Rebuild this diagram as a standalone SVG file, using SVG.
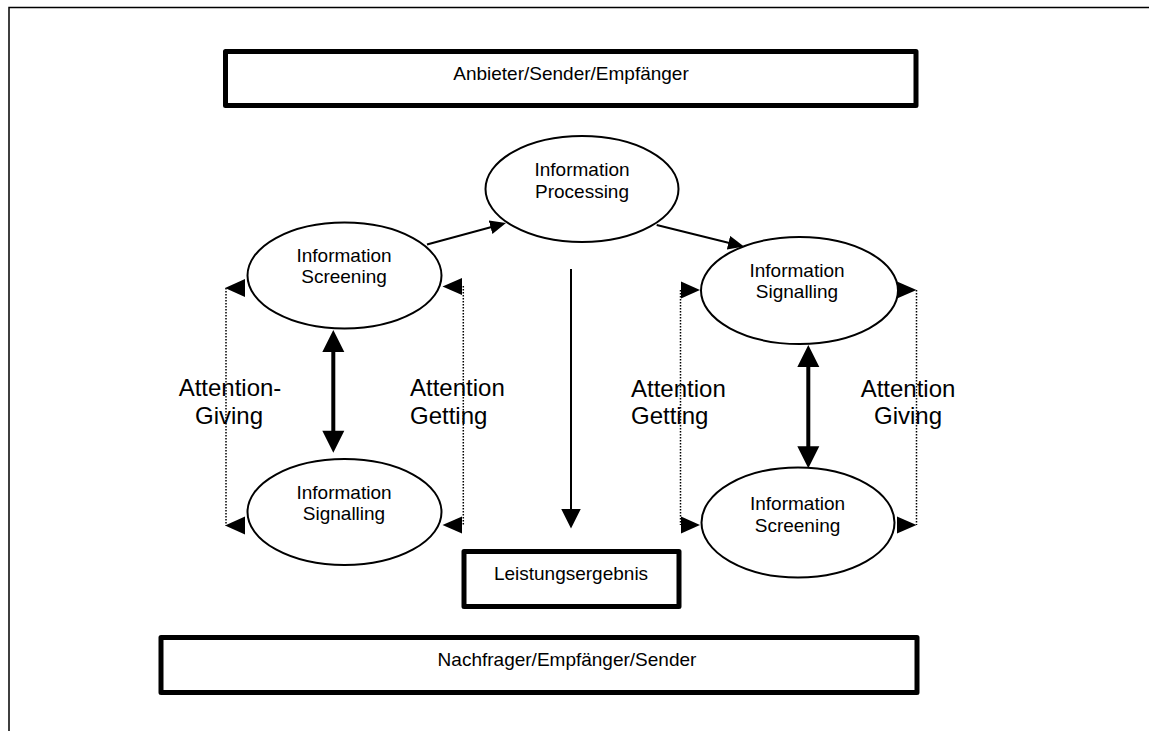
<svg xmlns="http://www.w3.org/2000/svg" width="1149" height="731" viewBox="0 0 1149 731">
  <style>
    .box { fill: #fff; stroke: #000; stroke-width: 5; stroke-linejoin: round; }
    .node { fill: #fff; stroke: #000; stroke-width: 2; }
    .lbl { font-family: "Liberation Sans", Arial, sans-serif; font-size: 19px; fill: #000; }
    .big { font-family: "Liberation Sans", Arial, sans-serif; font-size: 24px; fill: #000; }
    .line { stroke: #000; stroke-width: 2; fill: none; }
    .thick { stroke: #000; stroke-width: 4; fill: none; }
    .dot { stroke: #000; stroke-width: 1.5; stroke-dasharray: 1.5 1.5; fill: none; }
    .head { fill: #000; stroke: none; }
  </style>
  <defs>
    <marker id="arrS" markerWidth="16" markerHeight="14" refX="2" refY="7" orient="auto" markerUnits="userSpaceOnUse">
      <path d="M0,0 L16,7 L0,14 z" fill="#000"/>
    </marker>
    <marker id="arrL" markerWidth="20" markerHeight="20" refX="2" refY="10" orient="auto" markerUnits="userSpaceOnUse">
      <path d="M0,0 L20,10 L0,20 z" fill="#000"/>
    </marker>
  </defs>

  <rect width="1149" height="731" fill="#fff"/>

  <!-- page frame -->
  <path d="M9,731 V7.5 H1149" fill="none" stroke="#000" stroke-width="1.5"/>

  <!-- connectors -->
  <g id="connectors">
    <line class="line" x1="427" y1="244.5" x2="492.5" y2="226.7" marker-end="url(#arrS)"/>
    <line class="line" x1="656.7" y1="225" x2="730.4" y2="243.2" marker-end="url(#arrS)"/>
    <line class="line" x1="571" y1="269" x2="571" y2="510.5" marker-end="url(#arrL)"/>

    <!-- left pair: two-way link -->
    <line class="thick" x1="333.3" y1="348" x2="333.3" y2="435"/>
    <path class="head" d="M333.3,330 L344.3,352 L322.3,352 z"/>
    <path class="head" d="M333.3,452.7 L322.3,430.7 L344.3,430.7 z"/>

    <!-- right pair: two-way link -->
    <line class="thick" x1="808.3" y1="363" x2="808.3" y2="450"/>
    <path class="head" d="M808.3,345 L819.3,367 L797.3,367 z"/>
    <path class="head" d="M808.3,468.3 L797.3,446.3 L819.3,446.3 z"/>

    <!-- attention giving (left) -->
    <line class="dot" x1="226" y1="288" x2="226" y2="525.5"/>
    <path class="head" d="M225,288 L245,279 L245,297 z"/>
    <path class="head" d="M225,525.5 L245,516.5 L245,534.5 z"/>

    <!-- attention getting (left) -->
    <line class="dot" x1="463.3" y1="286" x2="463.3" y2="525"/>
    <path class="head" d="M442.5,286.5 L462,278 L462,295 z"/>
    <path class="head" d="M442.5,525 L462,516.5 L462,533.5 z"/>

    <!-- attention getting (right) -->
    <line class="dot" x1="680.5" y1="290" x2="680.5" y2="525"/>
    <path class="head" d="M700,290 L681,281.5 L681,298.5 z"/>
    <path class="head" d="M700,525 L681,516.5 L681,533.5 z"/>

    <!-- attention giving (right) -->
    <line class="dot" x1="916.5" y1="290" x2="916.5" y2="525"/>
    <path class="head" d="M916.5,290 L897,281.5 L897,298.5 z"/>
    <path class="head" d="M916.5,525 L897,516.5 L897,533.5 z"/>
  </g>

  <g id="anbieter">
    <rect class="box" x="225.5" y="51.5" width="690.5" height="54"/>
    <text class="lbl" x="571" y="80" text-anchor="middle">Anbieter/Sender/Empfänger</text>
  </g>

  <g id="processing">
    <ellipse class="node" cx="582" cy="189" rx="96.5" ry="53"/>
    <text class="lbl" x="582" y="176" text-anchor="middle">Information</text>
    <text class="lbl" x="582" y="198" text-anchor="middle">Processing</text>
  </g>

  <g id="screening-left">
    <ellipse class="node" cx="344.5" cy="275.5" rx="97" ry="53"/>
    <text class="lbl" x="344" y="261.5" text-anchor="middle">Information</text>
    <text class="lbl" x="344" y="283" text-anchor="middle">Screening</text>
  </g>

  <g id="signalling-left">
    <ellipse class="node" cx="344.5" cy="512" rx="97" ry="53"/>
    <text class="lbl" x="344" y="499" text-anchor="middle">Information</text>
    <text class="lbl" x="344" y="520" text-anchor="middle">Signalling</text>
  </g>

  <g id="signalling-right">
    <ellipse class="node" cx="799.5" cy="290.5" rx="98.5" ry="53.5"/>
    <text class="lbl" x="797" y="276.5" text-anchor="middle">Information</text>
    <text class="lbl" x="797" y="298" text-anchor="middle">Signalling</text>
  </g>

  <g id="screening-right">
    <ellipse class="node" cx="798" cy="522.5" rx="96.5" ry="55"/>
    <text class="lbl" x="797.5" y="510" text-anchor="middle">Information</text>
    <text class="lbl" x="797.5" y="532" text-anchor="middle">Screening</text>
  </g>

  <g id="labels">
    <text class="big" x="230" y="396" text-anchor="middle">Attention-</text>
    <text class="big" x="229" y="423.5" text-anchor="middle">Giving</text>
    <text class="big" x="410" y="396">Attention</text>
    <text class="big" x="410" y="423.5">Getting</text>
    <text class="big" x="631" y="396.5">Attention</text>
    <text class="big" x="631" y="424">Getting</text>
    <text class="big" x="908" y="396.5" text-anchor="middle">Attention</text>
    <text class="big" x="908" y="424" text-anchor="middle">Giving</text>
  </g>

  <g id="leistungsergebnis">
    <rect class="box" x="464" y="551.5" width="215" height="55"/>
    <text class="lbl" x="571" y="580" text-anchor="middle">Leistungsergebnis</text>
  </g>

  <g id="nachfrager">
    <rect class="box" x="161" y="637.5" width="756" height="55"/>
    <text class="lbl" x="567" y="666" text-anchor="middle">Nachfrager/Empfänger/Sender</text>
  </g>
</svg>
